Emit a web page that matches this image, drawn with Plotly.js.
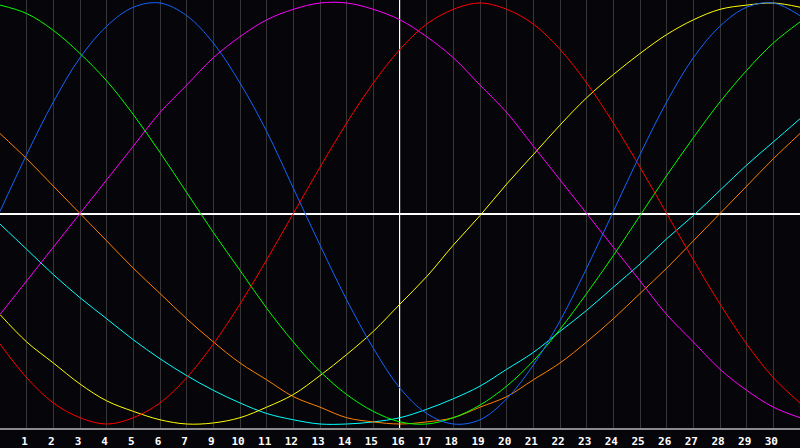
<!DOCTYPE html>
<html>
<head>
<meta charset="utf-8">
<script src="https://cdn.plot.ly/plotly-3.0.1.min.js"></script>
<style>
html,body{margin:0;padding:0;background:#060509;}
#chart{width:800px;height:448px;}
</style>
</head>
<body>
<div id="chart"></div>
<script>
// Day positions across the 30-day window
const days = [0,1,2,3,4,5,6,7,8,9,10,11,12,13,14,15,16,17,18,19,20,21,22,23,24,25,26,27,28,29,30];
// Tick positions and their date labels (8 is skipped in the original)
const tickPos = [1,2,3,4,5,6,7,8,9,10,11,12,13,14,15,16,17,18,19,20,21,22,23,24,25,26,27,28,29];
const tickLabels = ["1","2","3","4","5","6","7","9","10","11","12","13","14","15","16","17","18","19","20","21","22","23","24","25","26","27","28","29","30"];

// Series values (percent, -100..100)
const physical = [1,28,53,74,89,98,100,94,81,62,39,12,-15,-41,-64,-83,-95,-100,-98,-88,-72,-51,-26,1,28,53,74,89,98,100,94];
const emotional = [-62,-78,-90,-97,-100,-97,-90,-78,-62,-43,-22,0,22,43,62,78,90,97,100,97,90,78,62,43,22,0,-22,-43,-62,-78,-90];
const intellectual = [99,95,87,76,63,47,29,10,-9,-27,-45,-61,-75,-86,-94,-99,-100,-97,-91,-82,-70,-55,-38,-20,-1,18,36,53,68,81,91];
const intuitive = [-48,-32,-16,0,16,32,48,61,74,84,92,97,100,100,97,92,84,74,61,48,32,16,0,-16,-32,-48,-61,-74,-84,-92,-97];
const aesthetic = [-48,-61,-71,-81,-89,-94,-98,-100,-99.5,-97,-92,-86,-77,-67,-56,-43,-30,-15,-1,14,28,42,55,66,76,85,92,97,99,100,98];
const awareness = [38,26,13,0,-13,-26,-38,-50,-61,-71,-79,-87,-92,-97,-99,-100,-99,-97,-92,-87,-79,-71,-61,-50,-38,-26,-13,0,13,26,38];
const spiritual = [-5,-17,-29,-40,-50,-60,-69,-77,-84,-90,-95,-98,-100,-100,-99,-97,-93,-88,-82,-74,-66,-56,-46,-35,-24,-12,-1,11,23,34,45];

const seriesNames = ["Spiritual","Awareness","Aesthetic","Intuitive","Intellectual","Emotional","Physical"];
const seriesData = [spiritual, awareness, aesthetic, intuitive, intellectual, emotional, physical];
const seriesColors = ["#00ffff","#ff8000","#ffff00","#ff00ff","#00ff00","#ff0000","#1464ff"];

const traces = seriesData.map((vals, i) => ({
  x: days,
  y: vals,
  type: "scatter",
  mode: "lines",
  name: seriesNames[i],
  line: {color: seriesColors[i], width: 1, shape: "spline", smoothing: 1},
  hoverinfo: "skip"
}));

const layout = {
  width: 800,
  height: 448,
  margin: {l: 0, r: 0, t: 0, b: 20, pad: 0},
  paper_bgcolor: "#060509",
  plot_bgcolor: "#060509",
  showlegend: false,
  xaxis: {
    range: [0, 30],
    tickmode: "array",
    tickvals: tickPos,
    ticktext: tickLabels,
    showgrid: true,
    gridcolor: "#363636",
    gridwidth: 1,
    zeroline: false,
    showline: true,
    linecolor: "#8a8a8a",
    linewidth: 2,
    ticks: "",
    ticklabelshift: -2,
    ticklabelstandoff: 2,
    tickfont: {family: "DejaVu Sans Mono", size: 11, color: "#ffffff", weight: "bold"},
    fixedrange: true
  },
  yaxis: {
    range: [-101.9, 101.43],
    showgrid: false,
    showticklabels: false,
    ticks: "",
    zeroline: true,
    zerolinecolor: "#ffffff",
    zerolinewidth: 2,
    showline: true,
    linecolor: "#8a8a8a",
    linewidth: 2,
    fixedrange: true
  },
  shapes: [
    {type: "line", xref: "x", yref: "paper", x0: 15, x1: 15, y0: 0, y1: 1,
     line: {color: "#ffffff", width: 2}, layer: "below"}
  ]
};

Plotly.newPlot("chart", traces, layout, {displayModeBar: false, staticPlot: true});
</script>
</body>
</html>
